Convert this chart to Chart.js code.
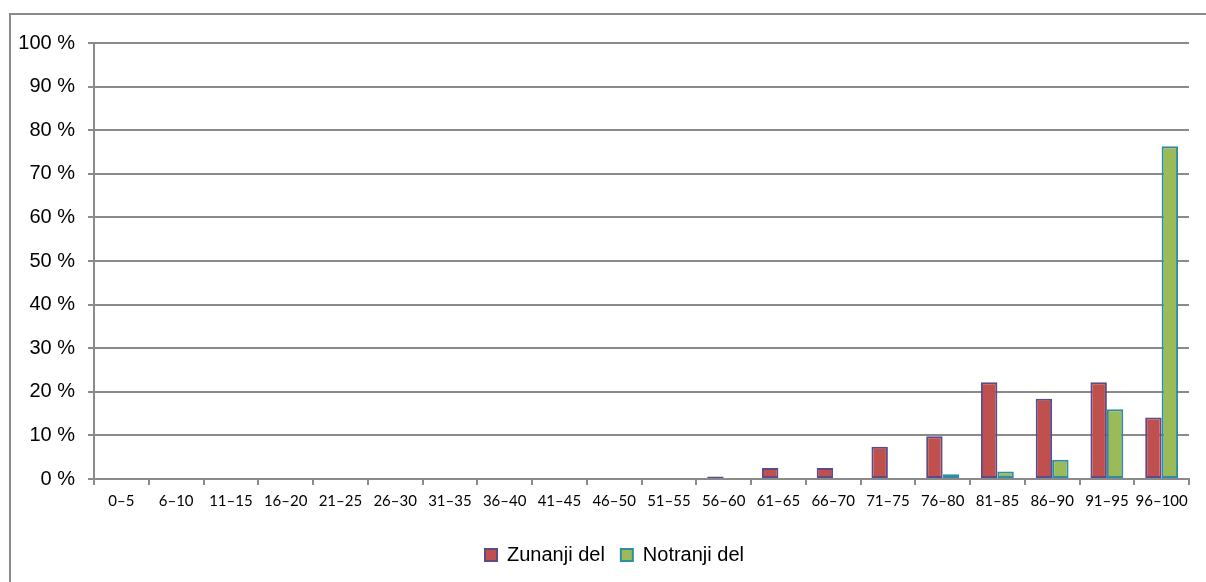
<!DOCTYPE html>
<html>
<head>
<meta charset="utf-8">
<script src="https://cdn.jsdelivr.net/npm/chart.js@4.4.0/dist/chart.umd.min.js"></script>
<style>
  html, body { margin: 0; padding: 0; background: #fff; overflow: hidden; }
  #frame { position: absolute; left: 9px; top: 13px; width: 1300px; height: 700px;
           border-left: 2px solid #8a8a8a; border-top: 2px solid #8a8a8a; }
  #chartBars { position: absolute; left: 0; top: 0; }
</style>
</head>
<body>
<div id="frame"></div>
<canvas id="chartBars" width="1206" height="582"></canvas>
<script>
/* podatki */
var razredi = ['0–5', '6–10', '11–15', '16–20', '21–25', '26–30', '31–35', '36–40', '41–45', '46–50',
               '51–55', '56–60', '61–65', '66–70', '71–75', '76–80', '81–85', '86–90', '91–95', '96–100'];
var zunanji = [0, 0, 0, 0, 0, 0, 0, 0, 0, 0, 0, 0.6, 2.5, 2.5, 7.4, 9.8, 22.2, 18.4, 22.2, 14.1];
var notranji = [0, 0, 0, 0, 0, 0, 0, 0, 0, 0, 0, 0, 0, 0, 0, 1.1, 1.7, 4.4, 16.0, 76.3];
var yTicks = [0, 10, 20, 30, 40, 50, 60, 70, 80, 90, 100];

var legendShift = 20; // legenda je v originalu malo desno

var shiftLegend = {
    id: 'shiftLegend',
    afterLayout: function (chart) {
        chart.legend.left += legendShift;
        chart.legend.right += legendShift;
        chart.legend.top += 2;
        chart.legend.bottom += 2;
    }
};

var ctx = document.getElementById('chartBars').getContext('2d');
new Chart(ctx, {
    type: 'bar',
    data: {
        labels: razredi,
        datasets: [{
            label: 'Zunanji del',
            data: zunanji,
            backgroundColor: '#C0504D',
            borderColor: '#5E4A87',
            borderWidth: 2,
            borderSkipped: false
        }, {
            label: 'Notranji del',
            data: notranji,
            backgroundColor: '#9BBB59',
            borderColor: '#2F8CA3',
            borderWidth: 2,
            borderSkipped: false
        }]
    },
    options: {
        responsive: false,
        animation: false,
        layout: { padding: { left: 0, right: 17, top: 43, bottom: 9 } },
        categoryPercentage: 0.6,
        barPercentage: 1,
        plugins: {
            tooltip: { enabled: false },
            legend: {
                position: 'bottom',
                labels: {
                    boxWidth: 12,
                    boxHeight: 12,
                    padding: 16,
                    color: '#000',
                    font: { family: 'Liberation Sans', size: 20 }
                }
            }
        },
        scales: {
            x: {
                afterFit: function (scale) { scale.height = 48; },
                grid: { drawOnChartArea: false, tickLength: 6, color: '#8a8a8a', lineWidth: 2, offset: true },
                border: { color: '#8a8a8a', width: 2 },
                ticks: {
                    autoSkip: false, maxRotation: 0, padding: 7, color: '#000',
                    font: { family: 'Lato', size: 15 }
                }
            },
            y: {
                min: 0,
                max: 100,
                afterFit: function (scale) { scale.width = 94; },
                afterBuildTicks: function (scale) {
                    scale.ticks = yTicks.map(function (v) { return { value: v }; });
                },
                grid: { color: '#8a8a8a', lineWidth: 2, tickLength: 6 },
                border: { color: '#8a8a8a', width: 2 },
                ticks: {
                    padding: 13, color: '#000',
                    font: { family: 'Liberation Sans', size: 20 },
                    callback: function (v) { return v + ' %'; }
                }
            }
        }
    },
    plugins: [shiftLegend]
});
</script>
</body>
</html>
